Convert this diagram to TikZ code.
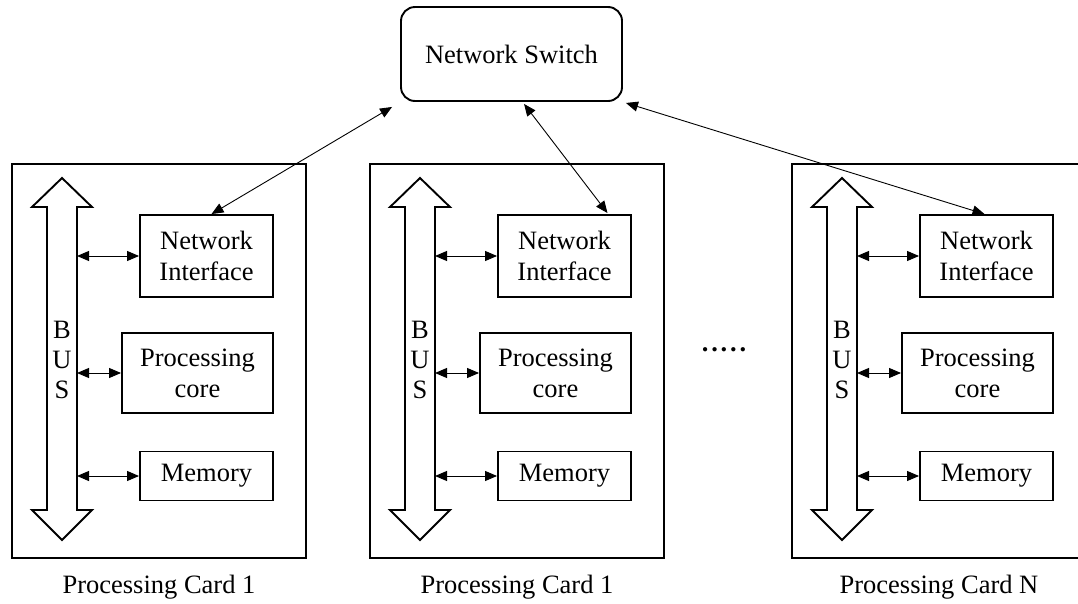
\documentclass[tikz,border=0pt]{standalone}
\usepackage{fontspec}
\setmainfont{Liberation Serif}
\usetikzlibrary{arrows.meta,calc}
\tikzset{
  x=1pt,y=-1pt,
  every node/.style={font=\fontsize{26.5}{31}\selectfont},
  cardbox/.style={draw,line width=1.9pt,minimum width=294pt,minimum height=394pt,inner sep=0pt},
  unitbox/.style={draw,line width=1.9pt,inner sep=0pt,align=center},
  switchbox/.style={draw,line width=1.9pt,rounded corners=14pt,minimum width=221pt,minimum height=94pt,inner sep=0pt},
  link/.style={line width=0.9pt,{Triangle[length=12pt,width=10pt]}-{Triangle[length=12pt,width=10pt]}},
  buslink/.style={line width=1pt,{Triangle[length=12pt,width=10pt]}-{Triangle[length=12pt,width=10pt]}},
  busarrow/.style={draw,line width=1.9pt,line join=miter,fill=white},
}
\begin{document}
\begin{tikzpicture}
\useasboundingbox (0,0) rectangle (1078,603);
\begin{scope}
\clip (0,0) rectangle (1078,603);

% central switch
\node[switchbox] (sw) at (511.5,54) {Network Switch};

% the processing cards
\foreach \n/\o/\t in {1/12/1,2/370/1,3/792/N}{
  \node[cardbox] (card\n) at (\o+147,361) {};
  \node (lab\n) at (\o+147,587) {Processing Card \t};
  % double-headed bus
  \draw[busarrow] (\o+50,178) -- (\o+80,207) -- (\o+65,207) -- (\o+65,510)
     -- (\o+80,510) -- (\o+50,540) -- (\o+20,510) -- (\o+35,510)
     -- (\o+35,207) -- (\o+20,207) -- cycle;
  \coordinate (bx\n) at (\o+65,0);
  \node[align=center,font=\fontsize{26.5}{30}\selectfont] (bt\n) at (\o+50,360) {B\\U\\S};
  % units on the bus
  \node[unitbox,minimum width=133pt,minimum height=82pt] (ni\n) at (\o+194.5,256) {Network\\Interface};
  \node[unitbox,minimum width=151pt,minimum height=80pt] (pc\n) at (\o+185.5,373) {Processing\\core};
  \node[unitbox,minimum width=133pt,minimum height=49pt] (mem\n) at (\o+194.5,476) {Memory};
  \draw[buslink] (bx\n |- ni\n.west) -- (ni\n.west);
  \draw[buslink] (bx\n |- pc\n.west) -- (pc\n.west);
  \draw[buslink] (bx\n |- mem\n.west) -- (mem\n.west);
}

% links from the network interfaces to the switch
\draw[link] ($(sw.south west)+(-8,5)$) -- ($(ni1.north)+(5,0)$);
\draw[link] ($(sw.south west)+(124,2)$) -- ($(ni2.north)+(43,-1)$);
\draw[link] ($(sw.south east)+(3,1)$) -- ($(ni3.north)+(-2,0)$);

% more cards in between
\node[anchor=base,font=\fontsize{26.5}{31}\selectfont\bfseries] (dots) at (724,351) {.\kern2.8pt.\kern2.8pt.\kern2.8pt.\kern2.8pt.};
\end{scope}
\end{tikzpicture}
\end{document}
